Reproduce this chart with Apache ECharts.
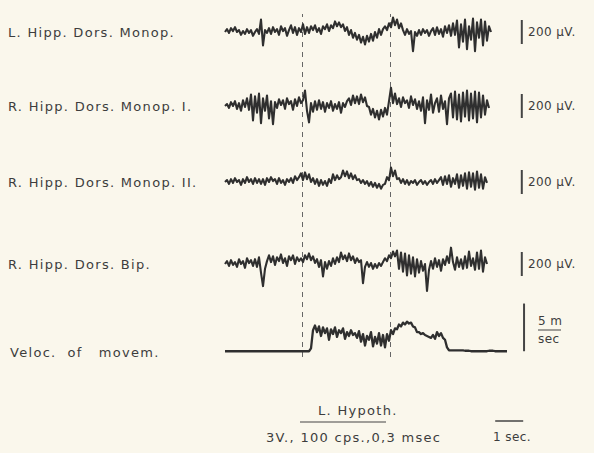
<!DOCTYPE html>
<html><head><meta charset="utf-8">
<script src="https://cdn.jsdelivr.net/npm/echarts@6/dist/echarts.min.js"></script>
<style>html,body{margin:0;padding:0;background:#faf7ec}#c{width:594px;height:453px}#c svg text{letter-spacing:1.3px}#c svg text[style*="12px"]{letter-spacing:0.4px}</style>
</head><body><div id="c"></div>
<script>
// ---- data ----
const DT = 1 / 14;                       // seconds per sample
const TRACE_LABELS = ['L. Hipp. Dors. Monop.', 'R. Hipp. Dors. Monop. I.', 'R. Hipp. Dors. Monop. II.', 'R. Hipp. Dors. Bip.'];
const VEL_LABEL = 'Veloc.  of   movem.';
// EEG traces, µV
const L_HIPP_MONOP = [0,24,-8,32,8,40,0,16,-24,8,-16,24,-8,16,-32,0,24,-16,
 104,-112,16,-8,
 32,-16,40,0,24,-24,48,8,32,-32,16,56,-8,40,-24,32,0,64,-16,
 40,-8,48,16,56,0,32,-16,48,24,64,8,56,32,88,48,80,40,
 64,8,40,-24,16,-48,-8,-64,-24,-88,-40,-104,-32,-80,-16,-72,0,-48,24,-24,
 24,48,16,72,40,120,56,104,32,72,
 16,-24,24,-16,8,-160,0,-32,16,-24,24,-8,16,-32,8,
 32,-24,40,-16,24,-40,48,-8,56,-32,72,-24,
 96,-128,64,-80,104,-144,48,-64,112,-160,80,-48,104,-112,88,-72,48,0];
const R_HIPP_MONOP_I = [0,16,-16,32,0,40,-24,24,-40,48,-8,64,-32,
 96,-120,80,-56,104,-144,64,-40,88,-104,40,-152,
 32,-16,56,8,48,-24,64,16,40,-32,56,0,72,24,48,
 128,-40,-136,24,-48,
 40,-32,48,-24,32,-48,24,-16,40,-40,16,-24,32,-56,24,-8,40,
 64,8,88,24,80,16,96,32,72,0,
 -8,-72,-24,-96,-40,-112,-32,-88,-16,-72,
 40,152,24,104,
 16,64,-8,72,24,48,-16,80,8,56,-24,40,
 -40,72,-144,48,-32,96,-56,24,64,-48,88,-24,40,-152,64,
 104,-96,120,-112,96,-128,112,-88,128,-120,104,-104,120,-136,112,-96,88,-72,48,-16];
const R_HIPP_MONOP_II = [0,16,-16,24,-8,32,0,16,-24,24,-8,40,0,24,-16,32,-8,24,-16,
 24,-24,32,0,40,8,24,-16,32,-8,16,-24,24,0,32,-8,48,16,40,
 72,16,80,24,64,0,32,
 -16,24,-32,16,-24,8,-32,24,-8,
 64,16,56,24,
 40,96,48,88,32,72,24,56,16,
 24,-8,16,-16,8,-32,0,-40,-8,-48,-16,-56,-24,-16,
 40,16,120,48,96,24,
 32,-8,24,-16,16,-24,8,-8,16,-24,0,16,-16,8,-24,0,16,-16,24,-8,16,
 40,-24,48,-16,56,-40,32,-16,64,-48,56,-32,72,-56,80,-40,72,-64,88,-48,64,-56,40,-8];
const R_HIPP_BIP = [0,24,-16,32,-8,16,-24,40,0,24,-32,48,8,32,-16,40,
 -24,56,-72,-184,-40,
 24,72,16,64,-8,56,24,80,8,48,-16,64,32,72,0,56,24,48,16,
 72,40,88,32,64,8,
 40,-24,32,-104,16,-40,24,-16,48,0,
 56,16,96,40,72,24,88,32,64,8,48,16,32,
 -160,-24,16,
 -24,8,-40,0,-32,8,-16,16,
 48,24,72,48,104,64,
 112,-40,96,-64,88,-96,72,-80,56,-104,40,-72,24,-56,0,
 -224,-48,
 24,-40,48,-24,32,-56,40,-8,64,8,136,
 16,-48,56,-24,40,-40,64,-32,104,-16,48,-48,96,-40,112,-64,56,0];
// velocity of movement, m/sec
const VELOCITY = [0,0,0,0,0,0,0,0,0,0,0,0,0,0,0,0,0,0,0,0,0,0,0,0,0,0,0,0,0,0,0,0,0,0,0,0,0,0,0,0,0,0,0,
 0.3,
 2.2,2.7,2.0,2.6,1.6,2.5,1.9,2.4,1.2,2.3,1.8,2.5,1.5,2.2,1.9,2.4,1.3,2.0,1.6,2.2,1.7,1.9,1.4,2.1,1.0,1.8,0.6,1.6,1.2,2.0,0.5,1.5,0.8,1.9,0.6,1.7,0.4,1.8,1.1,2.2,1.8,2.4,2.3,2.8,2.6,3.0,2.8,3.1,2.9,3.0,2.6,2.5,2.0,2.0,1.8,1.9,1.7,1.6,1.5,1.4,1.7,1.3,2.0,1.6,1.9,1.4,1.2,0.4,
 0.1,0.1,0.1,0.1,0.1,0.1,0.1,0.1,0.05,0.05,0.05,0,0,0,0,0,0,0,0,0,0.05,0.05,0.05,0,0,0,0,0,0,0];
const STIM_MARKS = [2.75, 5.9];          // s, dashed lines
const SCALE_UV = 200, SCALE_VEL = 5, SCALE_T = 1;
const SCALE_LABEL = '200 µV.';

// ---- layout ----
const TEXT = '#3d3d3d', INK = '#2f2f2f';
const FONT = 'DejaVu Sans';
const LEFT = 225, WIDTH = 308, XMAX = 11;
const centers = [32, 106, 182, 264];
const BAR_T = 10.6;
const grids = [], xAxes = [], yAxes = [], series = [];
function addGrid(top, height, ymin, ymax) {
  grids.push({left: LEFT, width: WIDTH, top: top, height: height});
  const i = grids.length - 1;
  xAxes.push({gridIndex: i, type: 'value', min: 0, max: XMAX, show: false});
  yAxes.push({gridIndex: i, type: 'value', min: ymin, max: ymax, show: false});
  return i;
}
const toPairs = arr => arr.map((v, i) => [i * DT, v]);
const traces = [L_HIPP_MONOP, R_HIPP_MONOP_I, R_HIPP_MONOP_II, R_HIPP_BIP];
traces.forEach((tr, k) => {
  const g = addGrid(centers[k] - 30, 60, -250, 250);
  series.push({type: 'line', xAxisIndex: g, yAxisIndex: g, data: toPairs(tr), symbol: 'none', z: 5,
    lineStyle: {color: INK, width: 2.1, join: 'round'}, clip: false});
  series.push({type: 'line', xAxisIndex: g, yAxisIndex: g, data: [[BAR_T, -SCALE_UV / 2], [BAR_T, SCALE_UV / 2]], symbol: 'none',
    lineStyle: {color: '#444', width: 2}, clip: false});
});
const gv = addGrid(294, 62, -0.5, 6);
series.push({type: 'line', xAxisIndex: gv, yAxisIndex: gv, data: toPairs(VELOCITY), symbol: 'none', z: 5,
  lineStyle: {color: INK, width: 2.3, join: 'round'}, clip: false});
series.push({type: 'line', xAxisIndex: gv, yAxisIndex: gv, data: [[BAR_T + 0.08, 0], [BAR_T + 0.08, SCALE_VEL]], symbol: 'none',
  lineStyle: {color: '#444', width: 2}, clip: false});
const gd = addGrid(14, 343, 0, 1);
series.push({type: 'line', xAxisIndex: gd, yAxisIndex: gd, data: [[0, 0]], symbol: 'none', lineStyle: {opacity: 0}, z: 1,
  markLine: {silent: true, symbol: 'none', label: {show: false}, animation: false,
    lineStyle: {color: '#666', width: 1, type: [5, 5]},
    data: STIM_MARKS.map(t => ({xAxis: t}))}});
const gt = addGrid(416, 10, 0, 1);
series.push({type: 'line', xAxisIndex: gt, yAxisIndex: gt, data: [[9.65, 0.5], [9.65 + SCALE_T, 0.5]], symbol: 'none',
  lineStyle: {color: '#444', width: 1.5}, clip: false});

const txt = (x, y, s, size) => ({type: 'text', x: x, y: y,
  style: {text: s, fill: TEXT, font: (size || 13) + 'px "' + FONT + '"', textVerticalAlign: 'middle'}});
const graphic = [];
TRACE_LABELS.forEach((s, k) => graphic.push(txt(8, centers[k], s)));
graphic.push(txt(10, 352, VEL_LABEL));
centers.forEach(c => graphic.push(txt(528, c, SCALE_LABEL, 12)));
graphic.push(txt(538, 321, '5 m', 12));
graphic.push({type: 'line', shape: {x1: 538, y1: 330, x2: 561, y2: 330}, style: {stroke: '#444', lineWidth: 1}});
graphic.push(txt(538, 339, 'sec', 12));
graphic.push(txt(318, 410, 'L. Hypoth.'));
graphic.push({type: 'line', shape: {x1: 300, y1: 422, x2: 386, y2: 422}, style: {stroke: '#444', lineWidth: 1.2}});
graphic.push(txt(266, 437, '3V., 100 cps.,0,3 msec'));
graphic.push(txt(493, 437, '1 sec.', 12));

const chart = echarts.init(document.getElementById('c'), null, {renderer: 'svg'});
chart.setOption({backgroundColor: '#faf7ec', animation: false, grid: grids, xAxis: xAxes, yAxis: yAxes, series: series, graphic: graphic});
</script></body></html>
